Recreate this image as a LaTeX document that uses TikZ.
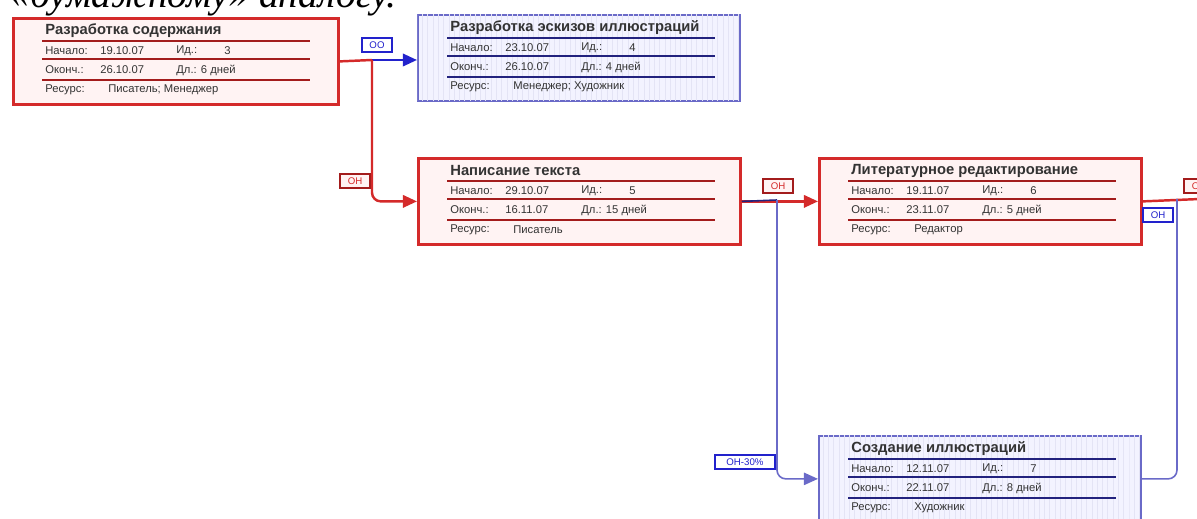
\documentclass[tikz,border=0pt]{standalone}
\usepackage{fontspec}
\setmainfont{Liberation Sans}
\newfontfamily\bookfont{Liberation Serif}
\usepackage{tikz}
\usetikzlibrary{positioning,calc,arrows.meta,patterns}
\usepackage{xcolor}
\definecolor{tred}{HTML}{D42A2A}
\definecolor{tdred}{HTML}{A31C1C}
\definecolor{tblue}{HTML}{2222CC}
\definecolor{tnavy}{HTML}{22227E}
\definecolor{tperi}{HTML}{6A6AC8}
\definecolor{tpink}{HTML}{FFF3F3}
\definecolor{tlav}{HTML}{F3F3FF}

\newcommand{\taskbody}[8]{
  \node[ttl] (#1-ttl) at ($(#1.north west)+(33,14)$) {#3};
  \foreach \dy in {24,42,63} {
    \draw[rowline,#2] ($(#1.north west)+(30,\dy)$) -- ($(#1.north west)+(298,\dy)$);
  }
  \node[fld] (#1-sl) at ($(#1.north west)+(33,34)$) {Начало:};
  \node[fld] (#1-sv) at ($(#1.north west)+(88,34)$) {#4};
  \node[fld] (#1-il) at ($(#1.north west)+(164,34)$) {Ид.:};
  \node[fld] (#1-iv) at ($(#1.north west)+(212,34)$) {#5};
  \node[fld] (#1-el) at ($(#1.north west)+(33,53)$) {Оконч.:};
  \node[fld] (#1-ev) at ($(#1.north west)+(88,53)$) {#6};
  \node[fld] (#1-dl) at ($(#1.north west)+(164,53)$) {Дл.: #7};
  \node[fld] (#1-rl) at ($(#1.north west)+(33,73)$) {Ресурс:};
  \node[fld] (#1-rv) at ($(#1.north west)+(96,73)$) {#8};
}

\begin{document}
\begin{tikzpicture}[
          x=0.02cm, y=-0.02cm,
          redtask/.style={rectangle,draw=tred,line width=1.6pt,fill=tpink,anchor=north west,
                          minimum width=6.44cm,minimum height=1.72cm,inner sep=0pt},
          bluetask/.style={rectangle,draw=tperi,line width=1pt,fill=tlav,anchor=north west,
                           minimum width=6.44cm,minimum height=1.72cm,inner sep=0pt,
                           postaction={pattern=vertical lines,pattern color=tperi!18}},
          ttl/.style={anchor=west,inner sep=0pt,font=\bfseries\fontsize{8.4}{9}\selectfont,text=black!80},
          fld/.style={anchor=west,inner sep=0pt,font=\fontsize{6.4}{7}\selectfont,text=black!80},
          rowline/.style={line width=1.1pt},
          redlink/.style={tred,line width=1.4pt,rounded corners=5pt},
          bluelink/.style={tblue,line width=1.4pt},
          thinlink/.style={tperi,line width=0.9pt,rounded corners=5pt},
          tip/.style={-{Triangle[length=8pt,width=7pt]}},
          redlbl/.style={draw=tdred,fill=tpink,text=tred,line width=0.6pt,inner sep=1pt,
                         minimum height=0.28cm,minimum width=0.6cm,font=\fontsize{5.5}{6}\selectfont},
          bluelbl/.style={draw=tblue,fill=white,text=tblue,line width=0.6pt,inner sep=1pt,
                          minimum height=0.28cm,minimum width=0.6cm,font=\fontsize{5.5}{6}\selectfont},
        ]
        \useasboundingbox (0,0) rectangle (1197,519);
        \node[font=\bookfont\itshape\fontsize{22.6}{24}\selectfont,anchor=base east,inner sep=0pt] (intro) at (397,8) {«бумажному» аналогу.};

        \node[redtask,minimum width=6.5cm] (t1) at (12,17) {};
        \node[bluetask] (t2) at (417,14) {};
        \node[redtask] (t3) at (417,157) {};
        \node[redtask] (t4) at (818,157) {};
        \node[bluetask] (t5) at (818,435) {};

        \taskbody{t1}{tdred}{Разработка содержания}{19.10.07}{3}{26.10.07}{6 дней}{Писатель; Менеджер}
        \taskbody{t2}{tnavy}{Разработка эскизов иллюстраций}{23.10.07}{4}{26.10.07}{4 дней}{Менеджер; Художник}
        \taskbody{t3}{tdred}{Написание текста}{29.10.07}{5}{16.11.07}{15 дней}{Писатель}
        \taskbody{t4}{tdred}{Литературное редактирование}{19.11.07}{6}{23.11.07}{5 дней}{Редактор}
        \taskbody{t5}{tnavy}{Создание иллюстраций}{12.11.07}{7}{22.11.07}{8 дней}{Художник}

        \coordinate (j1) at (372,60);
        \coordinate (j2) at (777,200);
        \coordinate (j3) at (1177,199);
        \coordinate (out) at (1200,199);

        \draw[bluelink,tip] (j1) -- (t2.west |- j1);
        \draw[redlink] (t1.east) -- (j1);
        \draw[redlink,tip] (j1) |- (t3.west);
        \draw[redlink,tip] (t3.east) -- (t4.west);
        \draw[tnavy,line width=0.9pt] (t3.east) -- (j2);
        \draw[thinlink,tip] (j2) |- (t5.west);
        \draw[redlink] (t4.east) -- (out);
        \draw[thinlink] (t5.east) -| (j3);

        \node[bluelbl] (oo) at (377,45) {ОО};
        \node[redlbl] (on1) at (355,181) {ОН};
        \node[redlbl] (on2) at (778,186) {ОН};
        \node[bluelbl,minimum width=1.2cm] (on3) at (745,462) {ОН-30\%};
        \node[bluelbl,line width=1pt] (on4) at (1158,215) {ОН};
        \node[redlbl] (on5) at (1199,186) {ОН};
      \end{tikzpicture}
\end{document}
